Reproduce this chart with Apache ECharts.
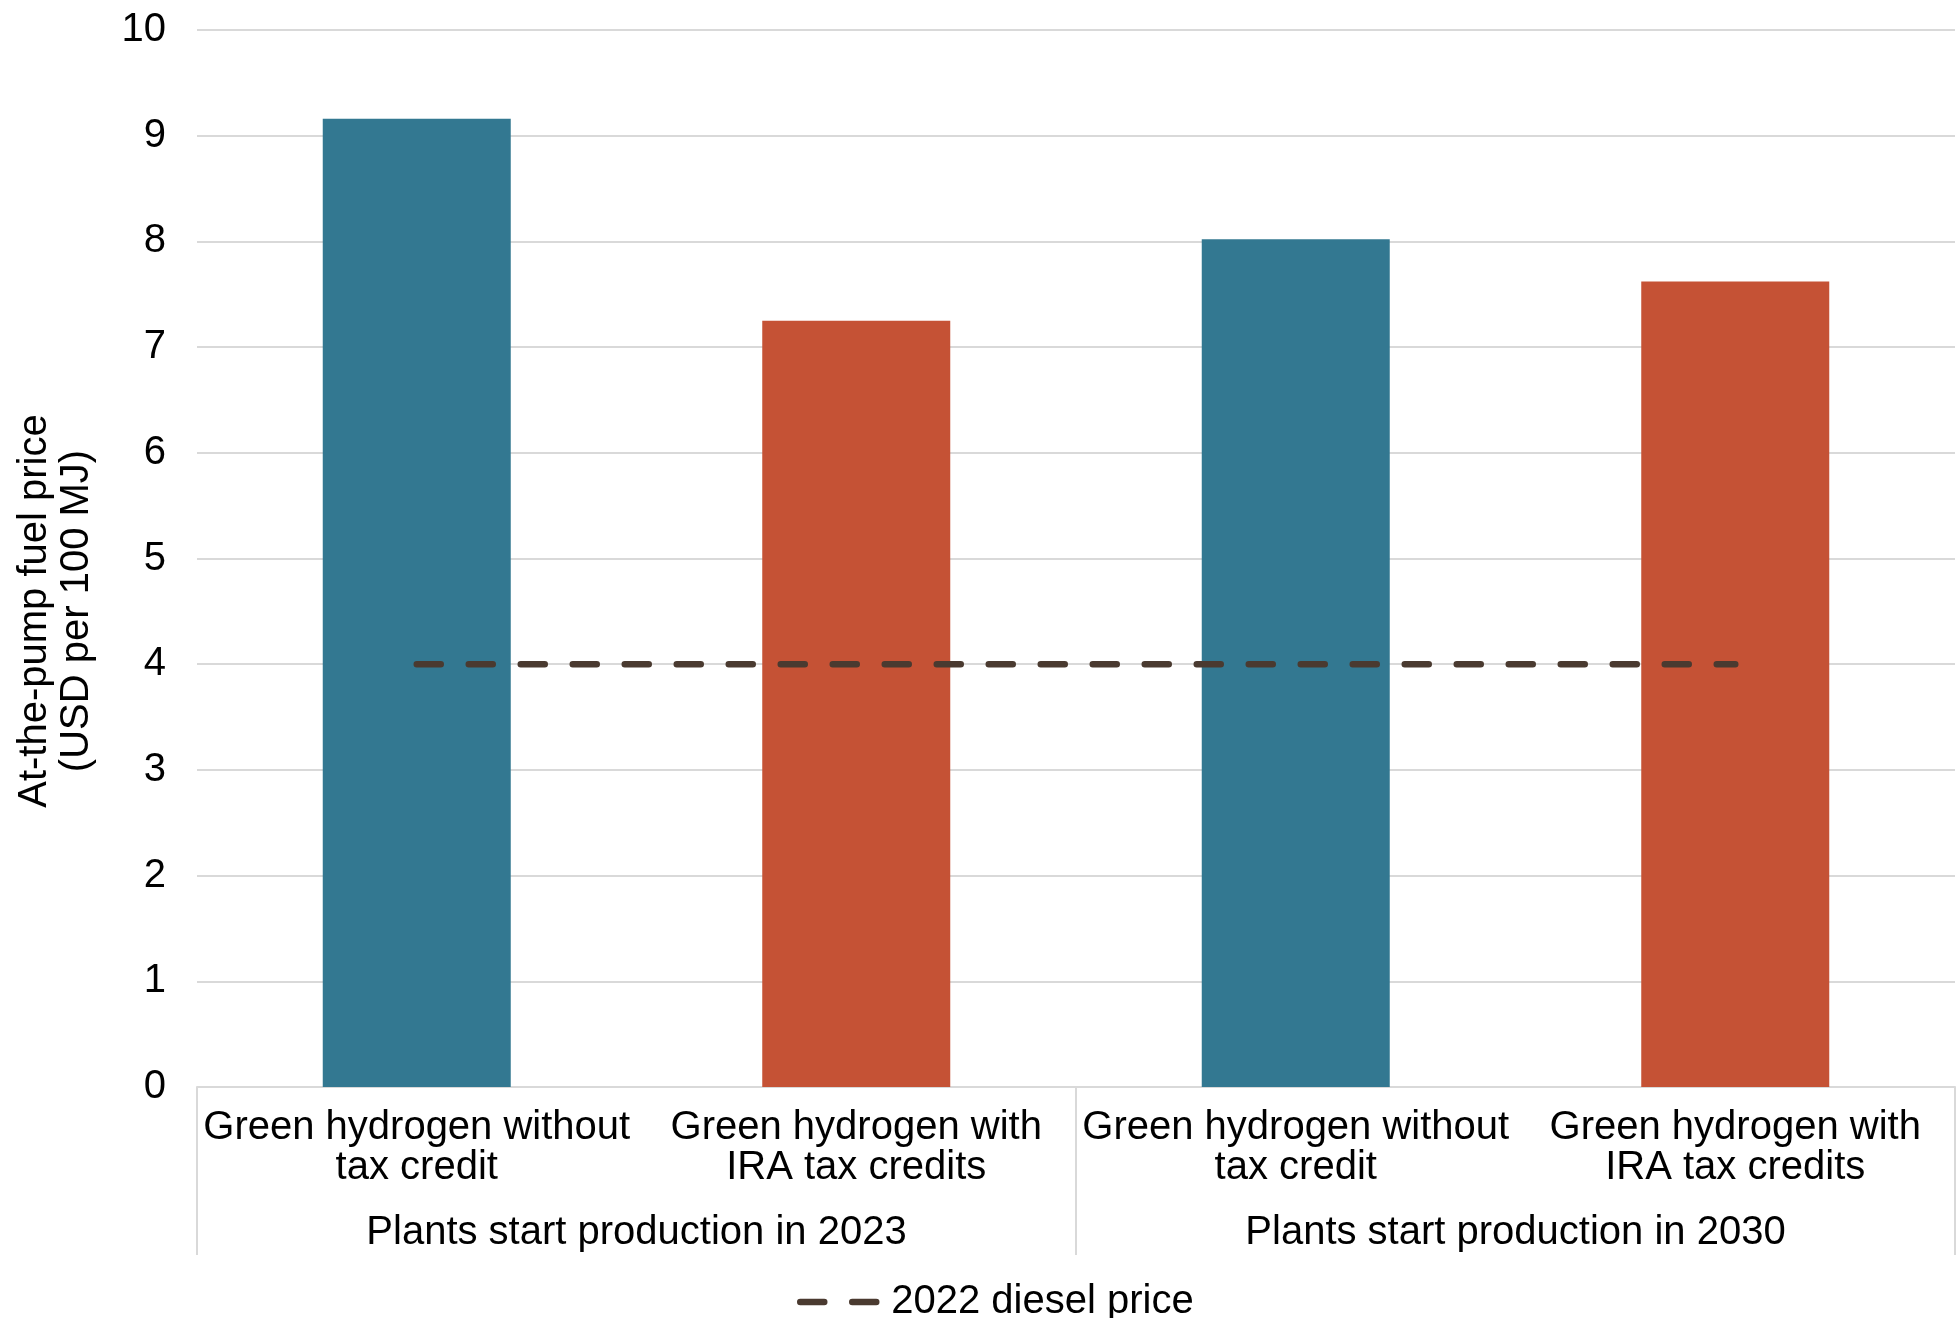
<!DOCTYPE html>
<html>
<head>
<meta charset="utf-8">
<script src="https://cdn.jsdelivr.net/npm/echarts@6/dist/echarts.min.js"></script>
<style>
html,body{margin:0;padding:0;background:#fff;}
#chart{width:1959px;height:1318px;}
</style>
</head>
<body>
<div id="chart"></div>
<script>
const categories = ["Green hydrogen without\ntax credit", "Green hydrogen with\nIRA tax credits", "Green hydrogen without\ntax credit", "Green hydrogen with\nIRA tax credits"];
const groups = ["Plants start production in 2023", "Plants start production in 2030"];
const fuelPrice = [9.16, 7.25, 8.02, 7.62];
const dieselPrice = [4, 4, 4, 4];
const yTicks = [0, 1, 2, 3, 4, 5, 6, 7, 8, 9, 10];
const seriesNames = ["Fuel price", "2022 diesel price"];
const yAxisTitle = "At-the-pump fuel price\n(USD per 100 MJ)";

const FONT = "'Liberation Sans', Arial, sans-serif";
const TEAL = '#337891', ORANGE = '#C55235', DIESEL = '#4a3a30', GRID = '#d9d9d9';
const DASH = {color: DIESEL, width: 6.5, type: [24, 28], cap: 'round'};

const chart = echarts.init(document.getElementById('chart'), null, {renderer: 'canvas'});
chart.setOption({
  animation: false,
  textStyle: {fontFamily: FONT},
  grid: {left: 197, right: 4, top: 30, bottom: 231, containLabel: false},
  legend: {
    data: [seriesNames[1]],
    left: 792, top: 1277,
    itemWidth: 82, itemHeight: 20, itemGap: 10,
    itemStyle: {opacity: 0},
    lineStyle: DASH,
    textStyle: {fontFamily: FONT, fontSize: 40, color: '#000', padding: [0, 0, 0, 4]}
  },
  xAxis: [
    {
      type: 'category', data: categories, position: 'bottom',
      axisLine: {show: true, lineStyle: {color: GRID, width: 2}},
      axisTick: {show: false},
      axisLabel: {interval: 0, margin: 21, fontFamily: FONT, fontSize: 40, lineHeight: 40, color: '#000'},
      splitLine: {show: false}
    },
    {
      type: 'category', data: groups, position: 'bottom',
      axisLine: {show: false},
      axisTick: {show: true, length: 168, alignWithLabel: false, lineStyle: {color: GRID, width: 2}},
      axisLabel: {interval: 0, margin: 126, fontFamily: FONT, fontSize: 40, color: '#000'},
      splitLine: {show: false}
    }
  ],
  yAxis: {
    type: 'value', min: yTicks[0], max: yTicks[yTicks.length - 1], interval: 1,
    axisLine: {show: false}, axisTick: {show: false},
    axisLabel: {margin: 31, fontFamily: FONT, fontSize: 40, color: '#000'},
    splitLine: {lineStyle: {color: GRID, width: 2}}
  },
  graphic: [{
    type: 'text', x: 56, y: 611, rotation: Math.PI / 2,
    style: {text: yAxisTitle, font: '40px ' + FONT, fill: '#000', align: 'center', verticalAlign: 'middle', lineHeight: 42}
  }],
  series: [
    {
      name: seriesNames[0], type: 'bar', xAxisIndex: 0, data: fuelPrice, barWidth: 188,
      itemStyle: {color: function (p) { return p.dataIndex % 2 === 0 ? TEAL : ORANGE; }},
      z: 2
    },
    {
      name: seriesNames[1], type: 'line', xAxisIndex: 0, data: dieselPrice,
      symbol: 'none', showSymbol: false, z: 5,
      lineStyle: DASH,
      itemStyle: {color: DIESEL}
    }
  ]
});
</script>
</body>
</html>
